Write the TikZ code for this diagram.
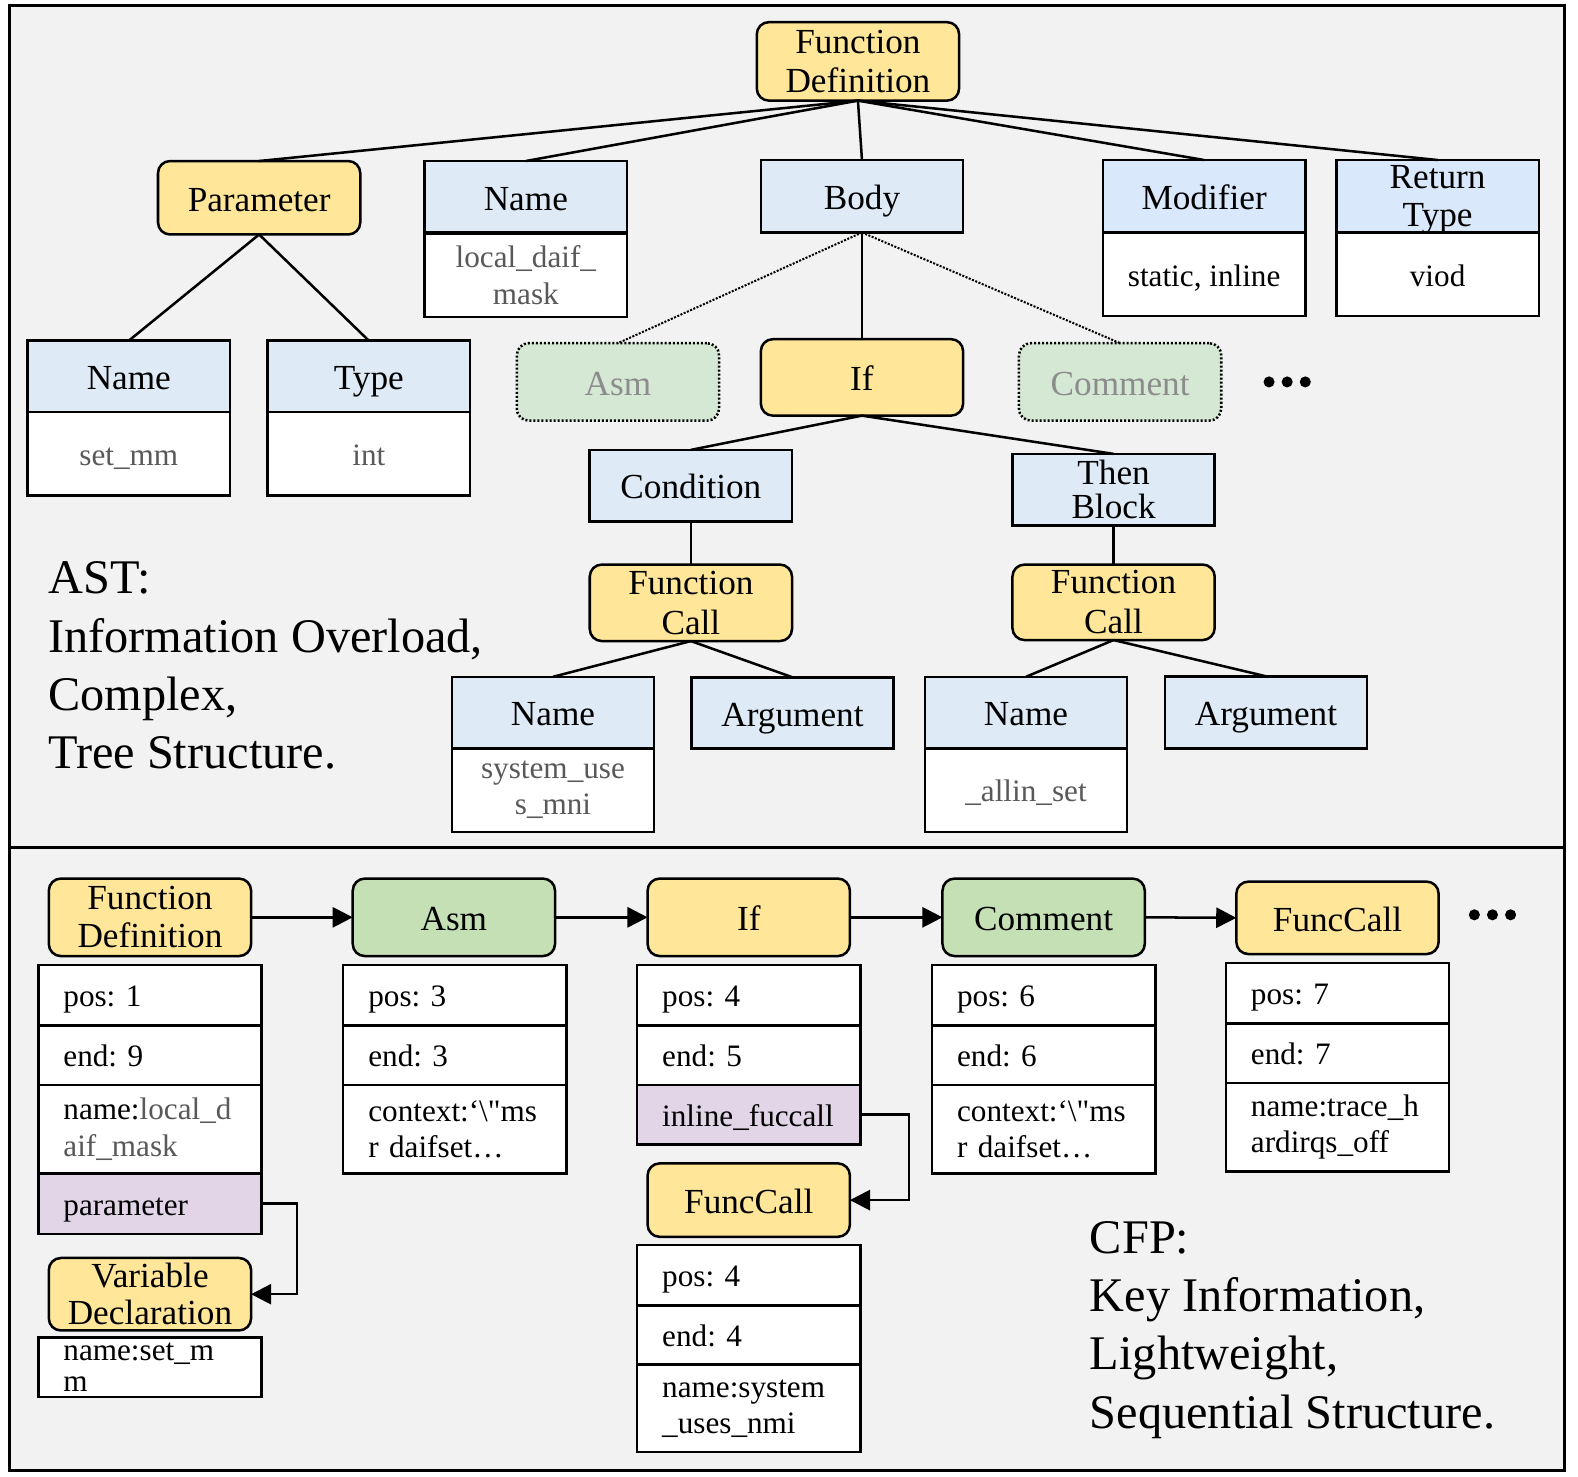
\documentclass[tikz,border=0pt]{standalone}
\usepackage{fontspec}
\setmainfont{Liberation Serif}
\newfontfamily\rawfont[Ligatures=TeXOff]{Liberation Serif}
\usetikzlibrary{arrows.meta}
\definecolor{bgc}{HTML}{F2F2F2}
\definecolor{yel}{HTML}{FFE699}
\definecolor{blu}{HTML}{DEEBF7}
\definecolor{bluB}{HTML}{DAE8FC}
\definecolor{grnA}{HTML}{D5E8D4}
\definecolor{grnB}{HTML}{C5E0B4}
\definecolor{pur}{HTML}{E1D5E7}
\definecolor{gtxt}{HTML}{595959}
\definecolor{ltxt}{HTML}{8C8C8C}
\frenchspacing
\begin{document}
\begin{tikzpicture}[x=1pt,y=-1pt,
 every node/.style={inner sep=0pt,outer sep=0pt},
 bx/.style={draw=black,line width=2.5pt,minimum width=201pt,align=center,font=\fontsize{35}{38}\selectfont},
 one/.style={text height=26.5pt,text depth=0pt},
 oner/.style={text height=23pt,text depth=0pt},
 onev/.style={text height=23.5pt,text depth=0pt},
 ybox/.style={bx,fill=yel,rounded corners=12pt},
 gbox/.style={bx,fill=grnB,rounded corners=12pt},
 dbox/.style={bx,fill=grnA,rounded corners=12pt,dash pattern=on 2pt off 2pt,text=ltxt},
 hbox/.style={bx,fill=blu},
 vbox/.style={bx,fill=white,font=\fontsize{31}{36}\selectfont},
 gval/.style={vbox,text=gtxt},
 row/.style={draw=black,line width=2.5pt,fill=white,minimum width=222pt,text width=172pt,align=left,font=\fontsize{31}{36}\selectfont},
 prow/.style={row,fill=pur},
 edge/.style={line width=2.5pt},
 dedge/.style={line width=2pt,dash pattern=on 2pt off 1.5pt},
 arr/.style={line width=2.5pt,-{Triangle[length=20pt,width=20pt]}},
 big/.style={anchor=base west,font=\fontsize{48}{57}\selectfont},
]
\useasboundingbox (0,0) rectangle (1568,1467);
\draw[line width=3pt,fill=bgc] (9,5) rectangle (1555,1461);
\draw[line width=3pt] (9,842) -- (1555,842);

% ---------- AST ----------
\node[ybox,minimum height=78pt] (fd) at (852.5,61) {Function\\Definition};
\node[ybox,one,minimum height=73pt] (par) at (257.5,196.5) {Parameter};
\node[hbox,one,minimum height=71pt] (nmA) at (522.5,195.5) {Name};
\node[gval,minimum height=83pt] (nmAv) at (522.5,273.5) {local\_daif\_\\mask};
\node[hbox,one,minimum height=72pt] (body) at (856.5,195) {Body};
\node[hbox,one,fill=bluB,minimum height=72pt] (mod) at (1196.5,195) {Modifier};
\node[vbox,onev,minimum height=83pt] (modv) at (1196.5,272.5) {static, inline};
\node[hbox,fill=bluB,minimum height=72pt] (ret) at (1428.5,195) {Return\\\smash{Type}};
\node[vbox,onev,minimum height=83pt] (retv) at (1428.5,272.5) {viod};

\node[hbox,one,minimum height=71pt] (nmB) at (128,374) {Name};
\node[gval,onev,minimum height=83pt] (nmBv) at (128,451) {set\_mm};
\node[hbox,one,minimum height=71pt] (typ) at (366.5,374) {Type};
\node[gval,onev,minimum height=83pt] (typv) at (366.5,451) {int};
\node[dbox,one,minimum height=77pt] (asm) at (614,379.5) {Asm};
\node[ybox,one,minimum height=76pt] (if) at (856.5,375) {If};
\node[dbox,one,minimum height=77pt] (com) at (1113,379.5) {Comment};

\node[hbox,one,minimum height=71pt] (cond) at (686.5,482.5) {Condition};
\node[hbox,minimum height=71pt,font=\fontsize{35}{34}\selectfont] (then) at (1106.5,486.5) {Then\\Block};
\node[ybox,minimum height=76pt,font=\fontsize{35}{40}\selectfont] (fcA) at (686.5,599) {Function\\Call};
\node[ybox,minimum height=75pt,font=\fontsize{35}{40}\selectfont] (fcB) at (1106.5,598.5) {Function\\Call};
\node[hbox,one,minimum height=71pt] (nmC) at (549.5,708) {Name};
\node[gval,minimum height=83pt] (nmCv) at (549.5,785) {system\_use\\s\_mni};
\node[hbox,one,minimum height=71pt] (argA) at (787.5,708.5) {Argument};
\node[hbox,one,minimum height=71pt] (nmD) at (1019.5,708) {Name};
\node[gval,onev,minimum height=83pt] (nmDv) at (1019.5,785) {\_allin\_set};
\node[hbox,one,minimum height=72pt] (argB) at (1258,708) {Argument};

\fill (1261,379.5) circle (5.5) (1279,379.5) circle (5.5) (1297,379.5) circle (5.5);

\node[big] (astA) at (48,590) {AST:};
\node[big] (astB) at (48,648) {Information Overload,};
\node[big] (astC) at (48,706) {Complex,};
\node[big] (astD) at (48,764) {Tree Structure.};

\draw[edge] (fd.south) -- (par.north);
\draw[edge] (fd.south) -- (nmA.north);
\draw[edge] (fd.south) -- (body.north);
\draw[edge] (fd.south) -- (mod.north);
\draw[edge] (fd.south) -- (ret.north);
\draw[edge] (par.south) -- (nmB.north);
\draw[edge] (par.south) -- (typ.north);
\draw[dedge] (body.south) -- (asm.north);
\draw[edge] (body.south) -- (if.north);
\draw[dedge] (body.south) -- (com.north);
\draw[edge] (if.south) -- (cond.north);
\draw[edge] (if.south) -- (then.north);
\draw[edge] (cond.south) -- (fcA.north);
\draw[edge] (then.south) -- (fcB.north);
\draw[edge] (fcA.south) -- (nmC.north);
\draw[edge] (fcA.south) -- (argA.north);
\draw[edge] (fcB.south) -- (nmD.north);
\draw[edge] (fcB.south) -- (argB.north);

% ---------- CFP ----------
\node[ybox,minimum height=77pt] (cfd) at (149,911.5) {Function\\Definition};
\node[gbox,one,minimum height=77pt] (casm) at (451,911.5) {Asm};
\node[ybox,one,minimum height=77pt] (cif) at (744,911.5) {If};
\node[gbox,one,minimum height=77pt] (ccom) at (1037,911.5) {Comment};
\node[ybox,one,minimum height=72pt] (cfc) at (1329,912) {FuncCall};

\fill (1465,909) circle (5.5) (1483,909) circle (5.5) (1501,909) circle (5.5);

\node[row,oner,minimum height=60pt] (fdp) at (149,989) {pos: 1};
\node[row,oner,minimum height=59pt] (fde) at (149,1048.5) {end: 9};
\node[row,minimum height=88pt] (fdn) at (149,1122) {name:\textcolor{gtxt}{local\_d}\\\textcolor{gtxt}{aif\_mask}};
\node[prow,oner,minimum height=60pt] (fdpar) at (149,1196) {parameter};
\node[ybox,minimum height=72pt,font=\fontsize{35}{37}\selectfont] (cvd) at (149,1286) {Variable\\Declaration};
\node[row,minimum height=59pt,font=\fontsize{31}{31}\selectfont] (cvdn) at (149,1358.5) {name:set\_m\\m};

\node[row,oner,minimum height=60pt] (asp) at (452,989) {pos: 3};
\node[row,oner,minimum height=59pt] (ase) at (452,1048.5) {end: 3};
\node[row,minimum height=88pt] (asc) at (452,1122) {context:‘\textbackslash{\rawfont"}ms\\r daifset…};

\node[row,oner,minimum height=60pt] (ifp) at (744,989) {pos: 4};
\node[row,oner,minimum height=59pt] (ife) at (744,1048.5) {end: 5};
\node[prow,oner,minimum height=59pt] (ifi) at (744,1107.5) {inline\_fuccall};
\node[ybox,one,minimum height=73pt] (cfc2) at (744,1192.5) {FuncCall};
\node[row,oner,minimum height=60pt] (fc2p) at (744,1267) {pos: 4};
\node[row,oner,minimum height=59pt] (fc2e) at (744,1326.5) {end: 4};
\node[row,minimum height=87pt] (fc2n) at (744,1399.5) {name:system\\\_uses\_nmi};

\node[row,oner,minimum height=60pt] (cop) at (1037,989) {pos: 6};
\node[row,oner,minimum height=59pt] (coe) at (1037,1048.5) {end: 6};
\node[row,minimum height=88pt] (coc) at (1037,1122) {context:‘\textbackslash{\rawfont"}ms\\r daifset…};

\node[row,oner,minimum height=60pt] (fcp) at (1329,987) {pos: 7};
\node[row,oner,minimum height=59pt] (fce) at (1329,1046.5) {end: 7};
\node[row,minimum height=88pt] (fcn) at (1329,1120) {name:trace\_h\\ardirqs\_off};

\draw[arr] (cfd.east) -- (casm.west);
\draw[arr] (casm.east) -- (cif.west);
\draw[arr] (cif.east) -- (ccom.west);
\draw[arr] (ccom.east) -- (cfc.west);
\draw[arr] (fdpar.east) -- ++(35,0) |- (cvd.east);
\draw[arr] (ifi.east) -- ++(48,0) |- (cfc2.east);

\node[big] (cfpA) at (1083,1246) {CFP:};
\node[big] (cfpB) at (1083,1303) {Key Information,};
\node[big] (cfpC) at (1083,1361) {Lightweight,};
\node[big] (cfpD) at (1083,1419) {Sequential Structure.};
\end{tikzpicture}
\end{document}
